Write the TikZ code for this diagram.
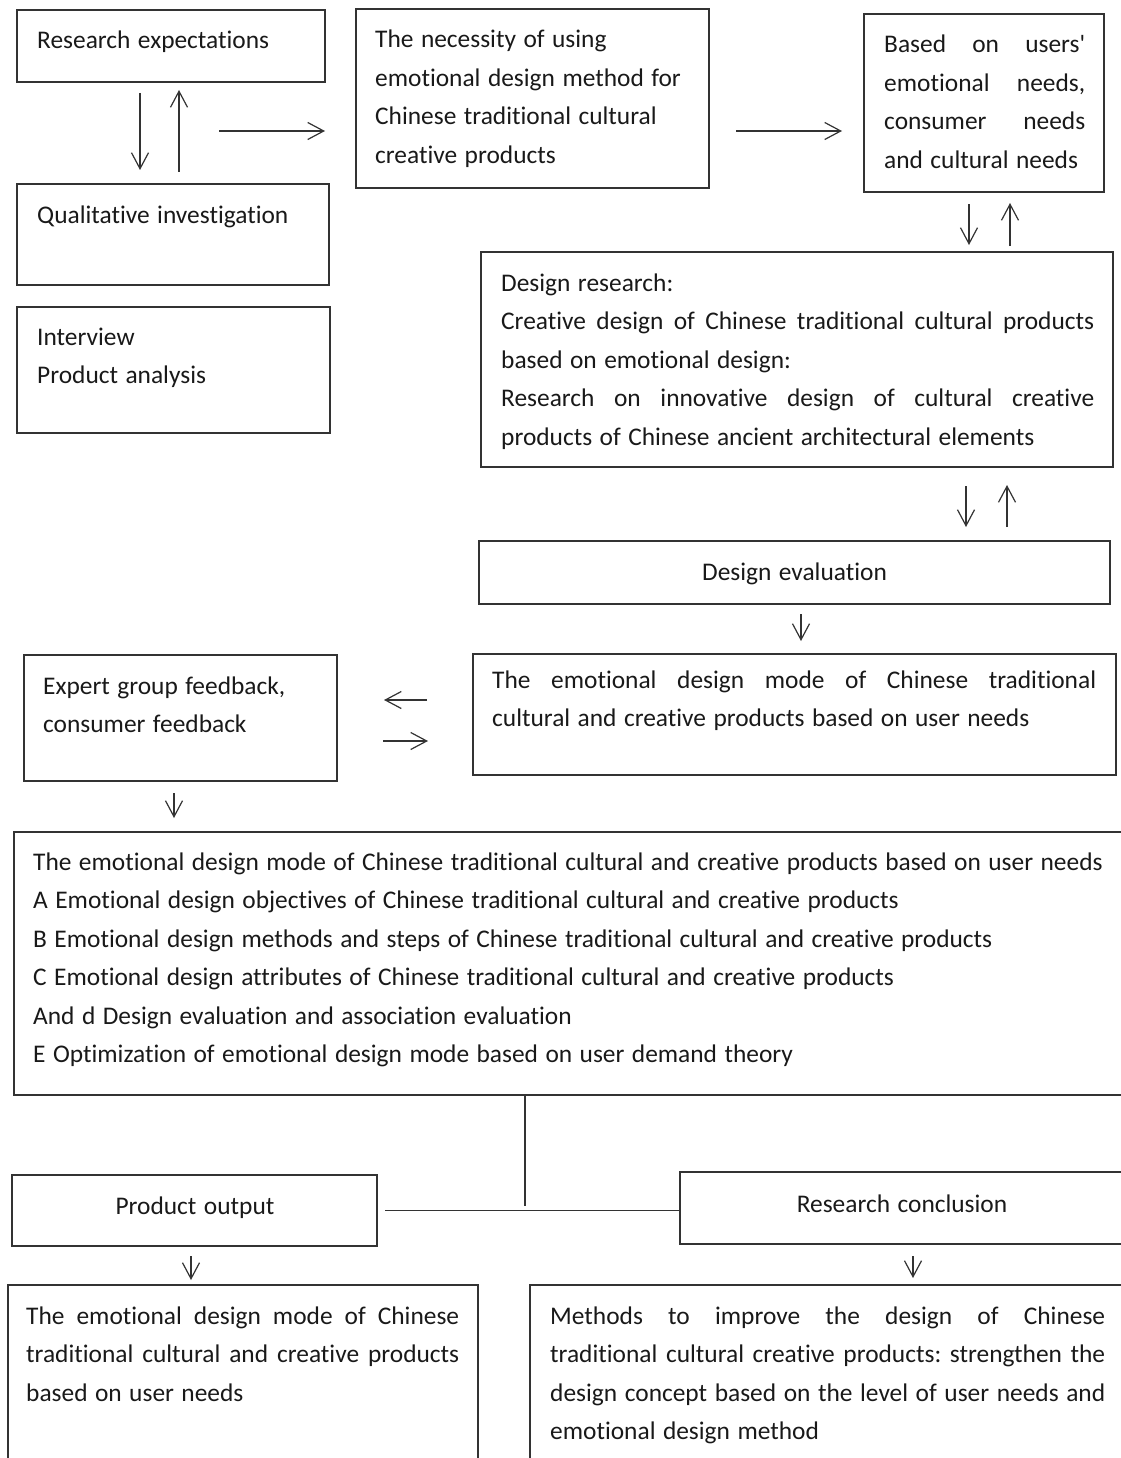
\documentclass[tikz,border=0pt]{standalone}
\usepackage{fontspec}
\setmainfont{Carlito}[Ligatures=NoCommon, WordSpace=1.3]
\usetikzlibrary{arrows.meta}
\definecolor{ink}{RGB}{51,51,51}
\newcommand{\fillline}[1]{\leavevmode\hbox to \hsize{#1}}
\frenchspacing

\begin{document}
\begin{tikzpicture}[
    x=1pt, y=-1pt,
    font=\fontsize{25.4pt}{38.5pt}\selectfont,
    box/.style={draw=ink, line width=1.5pt, anchor=north west, inner sep=0pt, outer sep=0pt},
    txt/.style={anchor=base west, inner sep=0pt, align=justify, text=black!90},
    ctxt/.style={anchor=base, inner sep=0pt, text=black!90},
    flow/.style={-{Straight Barb[length=16pt, width=17pt]}, line width=1.2pt, draw=ink},
    link/.style={line width=1.5pt, draw=ink}
  ]
  \useasboundingbox (0,0) rectangle (1120,1458);

  % boxes
  \node[box, minimum width=308pt, minimum height=72pt] (expect) at (17,10) {};
  \node[box, minimum width=312pt, minimum height=101pt] (qual) at (17,184) {};
  \node[box, minimum width=313pt, minimum height=126pt] (interv) at (17,307) {};
  \node[box, minimum width=353pt, minimum height=179pt] (need) at (356,9) {};
  \node[box, minimum width=240pt, minimum height=178pt] (based) at (864,14) {};
  \node[box, minimum width=632pt, minimum height=215pt] (resdes) at (481,252) {};
  \node[box, minimum width=631pt, minimum height=63pt] (eval) at (479,541) {};
  \node[box, minimum width=643pt, minimum height=121pt] (mode) at (473,654) {};
  \node[box, minimum width=313pt, minimum height=126pt] (expert) at (24,655) {};
  \node[box, minimum width=1110pt, minimum height=263pt] (main) at (14,832) {};
  \node[box, minimum width=365pt, minimum height=71pt] (output) at (12,1175) {};
  \node[box, minimum width=444pt, minimum height=72pt] (concl) at (680,1172) {};
  \node[box, minimum width=470pt, minimum height=177pt] (final) at (8,1285) {};
  \node[box, minimum width=594pt, minimum height=177pt] (improve) at (530,1285) {};

  % texts
  \node[txt, text width=290pt] (expect-t) at (37,49) {Research expectations};
  \node[txt, text width=290pt] (qual-t) at (37,223) {Qualitative investigation};
  \node[txt, text width=290pt] (interv-t) at (37,345) {Interview\\Product analysis};
  \node[txt, text width=330pt] (need-t) at (375,48)
  {The necessity of using\\emotional design method for\\Chinese traditional cultural\\creative products};
  \node[txt, text width=201pt] (based-t) at (884,53)
  {\fillline{Based on users\textquotesingle}\\\fillline{emotional needs,}\\\fillline{consumer needs}\\and cultural needs};
  \node[txt, text width=593pt] (resdes-t) at (501,291)
  {Design research:\\\fillline{Creative design of Chinese traditional cultural products}\\based on emotional design:\\
   \fillline{Research on innovative design of cultural creative}\\products of Chinese ancient architectural elements};
  \node[ctxt] (eval-t) at (794.5,580) {Design evaluation};
  \node[txt, text width=604pt] (mode-t) at (492,688)
  {\fillline{The emotional design mode of Chinese traditional}\\cultural and creative products based on user needs};
  \node[txt, text width=290pt] (expert-t) at (43,694) {Expert group feedback,\\consumer feedback};
  \node[txt, text width=1200pt] (main-t) at (33,870)
  {The emotional design mode of Chinese traditional cultural and creative products based on user needs\\
   A Emotional design objectives of Chinese traditional cultural and creative products\\
   B Emotional design methods and steps of Chinese traditional cultural and creative products\\
   C Emotional design attributes of Chinese traditional cultural and creative products\\
   And d Design evaluation and association evaluation\\
   E Optimization of emotional design mode based on user demand theory};
  \node[ctxt] (output-t) at (195,1214) {Product output};
  \node[ctxt] (concl-t) at (902,1212) {Research conclusion};
  \node[txt, text width=433pt] (final-t) at (26,1324)
  {\fillline{The emotional design mode of Chinese}\\\fillline{traditional cultural and creative products}\\based on user needs};
  \node[txt, text width=555pt] (improve-t) at (550,1324)
  {\fillline{Methods to improve the design of Chinese}\\\fillline{traditional cultural creative products: strengthen the}\\
   \fillline{design concept based on the level of user needs and}\\emotional design method};

  % arrows
  \draw[flow] ([shift={(-31,11)}]expect.south) -- ([shift={(-33,-14)}]qual.north);
  \draw[flow] ([shift={(6,-12)}]qual.north) -- ([shift={(8,8)}]expect.south);
  \draw[flow] ([shift={(-137,32.5)}]need.west) -- ([shift={(-31,32.5)}]need.west);
  \draw[flow] ([shift={(27,32.5)}]need.east) -- ([shift={(-22,28)}]based.west);
  \draw[flow] ([shift={(-15,12)}]based.south) -- ([shift={(172,-7)}]resdes.north);
  \draw[flow] ([shift={(213,-6)}]resdes.north) -- ([shift={(26,11)}]based.south);
  \draw[flow] ([shift={(169,19)}]resdes.south) -- ([shift={(171.5,-14)}]eval.north);
  \draw[flow] ([shift={(212.5,-14)}]eval.north) -- ([shift={(210,18)}]resdes.south);
  \draw[flow] ([shift={(6.5,10)}]eval.south) -- ([shift={(6.5,-13)}]mode.north);
  \draw[flow] ([shift={(-46,-14.5)}]mode.west) -- ([shift={(47,-18)}]expert.east);
  \draw[flow] ([shift={(46,23)}]expert.east) -- ([shift={(-45,26.5)}]mode.west);
  \draw[flow] ([shift={(-6.5,12)}]expert.south) -- ([shift={(-395,-14)}]main.north);

  % split to the two outputs
  \draw[link] ([shift={(-44,0)}]main.south) -- ([shift={(-44,111)}]main.south);
  \draw[link] ([shift={(8,0)}]output.east) -- (concl.west |- output.east);
  \draw[flow] ([shift={(-3.5,10)}]output.south) -- ([shift={(-52,-5)}]final.north);
  \draw[flow] ([shift={(11,12)}]concl.south) -- ([shift={(86,-7)}]improve.north);

\end{tikzpicture}
\end{document}
